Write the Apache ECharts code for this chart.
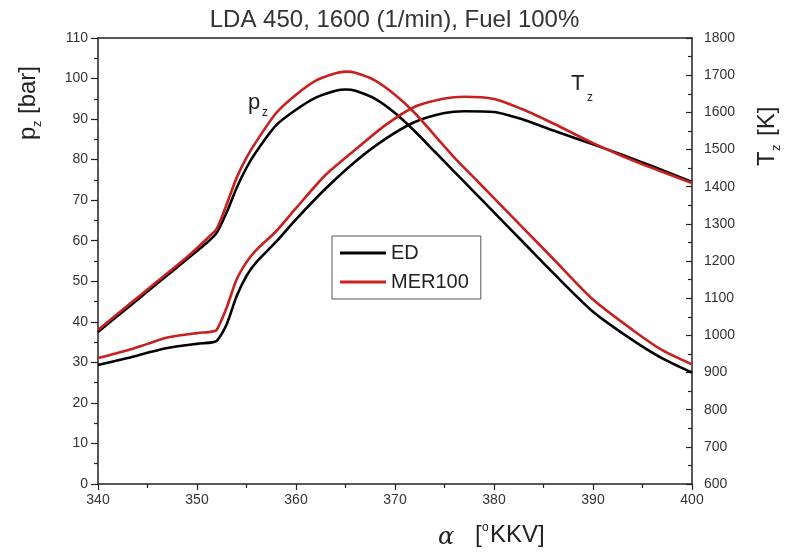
<!DOCTYPE html>
<html>
<head>
<meta charset="utf-8">
<script src="https://cdn.jsdelivr.net/npm/echarts@6/dist/echarts.min.js"></script>
<style>html,body{margin:0;padding:0;background:#fff}#c{width:789px;height:556px}</style>
</head>
<body>
<div id="c"></div>
<script>
// Pressure curves (left axis, bar)
const pAngle = [340,343,346,349,351,352,353,354,355,356,358,360,362,364,365,366,368,370,372,374,376,378,380,383,386,390,394,397,400];
const pED    = [37.5,43.5,49.5,55.5,59.5,62,67,73,78,82,88.5,92.3,95.3,97,97.3,97,95,91.5,87,82,77,72,67,59.5,52,42.5,35.5,31,27.5];
const pMER   = [38,44,50,56,60.5,63,69,75.5,80.5,84.5,91.5,96,99.5,101.3,101.7,101.4,99.5,96,91.5,86,80.5,75.5,70.5,63,55.5,45.5,38,33,29.5];
// Temperature curves (right axis, K)
const tAngle = [340,343,345,347,350,351.5,352,353,354,355,356,358,360,363,366,369,372,375,377,380,383,386,390,393,396,400];
const tED    = [920,939,953,966,977,981,985,1030,1105,1160,1197,1252,1312,1395,1468,1528,1574,1598,1603,1601,1580,1551,1514,1485,1455,1413];
const tMER   = [939,960,977,994,1006,1010,1015,1075,1150,1197,1230,1280,1342,1432,1500,1565,1615,1637,1642,1636,1607,1570,1517,1482,1450,1410];
const seriesNames = ['ED','MER100'];

const zip = (xs, ys) => xs.map((x,i)=>[x, ys[i]]);
const RED = '#c8201f', BLK = '#000000';
const FONT = 'Liberation Sans, Arial, sans-serif';
const lbl = {color:'#333', fontSize:14, fontFamily:FONT};

const chart = echarts.init(document.getElementById('c'), null, {renderer:'canvas'});
const lineS = (name, data, color, yIdx) => ({
  name, type:'line', data, yAxisIndex:yIdx, showSymbol:false, symbol:'none',
  smooth:0.25,
  lineStyle:{color, width:2.6}, itemStyle:{color}, z: color===RED?3:2
});

chart.setOption({
  animation:false,
  title:{text:'LDA 450, 1600 (1/min), Fuel 100%', left:'center', top:3,
    textStyle:{fontFamily:FONT, fontWeight:'normal', fontSize:24, color:'#333'}},
  grid:{left:98, right:97, top:38, bottom:72},
  legend:{data:[{name:seriesNames[0], icon:'rect'},{name:seriesNames[1], icon:'rect'}], orient:'vertical', left:332, top:236,
    itemWidth:46, itemHeight:3, itemGap:9,
    padding:[7,12,7,8], borderColor:'#555', borderWidth:1, borderRadius:0,
    textStyle:{fontFamily:FONT, fontSize:20, color:'#222', lineHeight:20}},
  xAxis:[{type:'value', min:340, max:400, interval:10, position:'bottom',
    axisLine:{lineStyle:{color:'#222', width:1.5}},
    axisTick:{length:6, lineStyle:{color:'#222', width:1.2}},
    minorTick:{show:true, splitNumber:2, length:4, lineStyle:{color:'#222', width:1.2}},
    splitLine:{show:false}, axisLabel:Object.assign({margin:9}, lbl)},
   {type:'value', min:340, max:400, position:'top', axisLine:{show:true, lineStyle:{color:'#222', width:1.5}},
    axisTick:{show:false}, axisLabel:{show:false}, splitLine:{show:false}}],
  yAxis:[{type:'value', min:0, max:110, interval:10, position:'left',
    axisLine:{show:true, lineStyle:{color:'#222', width:1.5}},
    axisTick:{show:true, length:7, lineStyle:{color:'#222', width:1.2}},
    minorTick:{show:true, splitNumber:2, length:4, lineStyle:{color:'#222', width:1.2}},
    splitLine:{show:false}, axisLabel:Object.assign({margin:10}, lbl)},
   {type:'value', min:600, max:1800, interval:100, position:'right',
    axisLine:{show:true, lineStyle:{color:'#222', width:1.5}},
    axisTick:{show:true, inside:true, length:6, lineStyle:{color:'#222', width:1.2}},
    minorTick:{show:true, splitNumber:2, length:4, lineStyle:{color:'#222', width:1.2}},
    splitLine:{show:false}, axisLabel:Object.assign({margin:12, formatter:(v)=>String(v)}, lbl)}],
  series:[
    lineS(seriesNames[0], zip(pAngle,pED), BLK, 0),
    lineS(seriesNames[1], zip(pAngle,pMER), RED, 0),
    lineS(seriesNames[0], zip(tAngle,tED), BLK, 1),
    lineS(seriesNames[1], zip(tAngle,tMER), RED, 1)
  ],
  graphic:[
    // left axis title p_z [bar]
    {type:'group', x:40, y:140, rotation:Math.PI/2, children:[
      {type:'text', x:0, y:0, style:{text:'p', font:'24px '+FONT, fill:'#222', textVerticalAlign:'bottom'}},
      {type:'text', x:13, y:4, style:{text:'z', font:'13px '+FONT, fill:'#222', textVerticalAlign:'bottom'}},
      {type:'text', x:26, y:0, style:{text:'[bar]', font:'24px '+FONT, fill:'#222', textVerticalAlign:'bottom'}}
    ]},
    // right axis title T_z [K]
    {type:'group', x:779, y:166, rotation:Math.PI/2, children:[
      {type:'text', x:0, y:0, style:{text:'T', font:'24px '+FONT, fill:'#222', textVerticalAlign:'bottom'}},
      {type:'text', x:15, y:4, style:{text:'z', font:'13px '+FONT, fill:'#222', textVerticalAlign:'bottom'}},
      {type:'text', x:30, y:0, style:{text:'[K]', font:'24px '+FONT, fill:'#222', textVerticalAlign:'bottom'}}
    ]},
    // x axis title
    {type:'text', left:438, top:526, style:{text:'\u03b1', font:'italic 24px "DejaVu Serif", serif', fill:'#222'}},
    {type:'text', left:475, top:523, style:{text:'[', font:'24px '+FONT, fill:'#222'}},
    {type:'text', left:482, top:522, style:{text:'o', font:'12px '+FONT, fill:'#222'}},
    {type:'text', left:490, top:523, style:{text:'KKV]', font:'24px '+FONT, fill:'#222'}},
    // curve labels
    {type:'text', left:248, top:92, style:{text:'p', font:'22px '+FONT, fill:'#222'}},
    {type:'text', left:262, top:107, style:{text:'z', font:'12px '+FONT, fill:'#222'}},
    {type:'text', left:571, top:73, style:{text:'T', font:'22px '+FONT, fill:'#222'}},
    {type:'text', left:587, top:92, style:{text:'z', font:'12px '+FONT, fill:'#222'}}
  ]
});
</script>
</body>
</html>
